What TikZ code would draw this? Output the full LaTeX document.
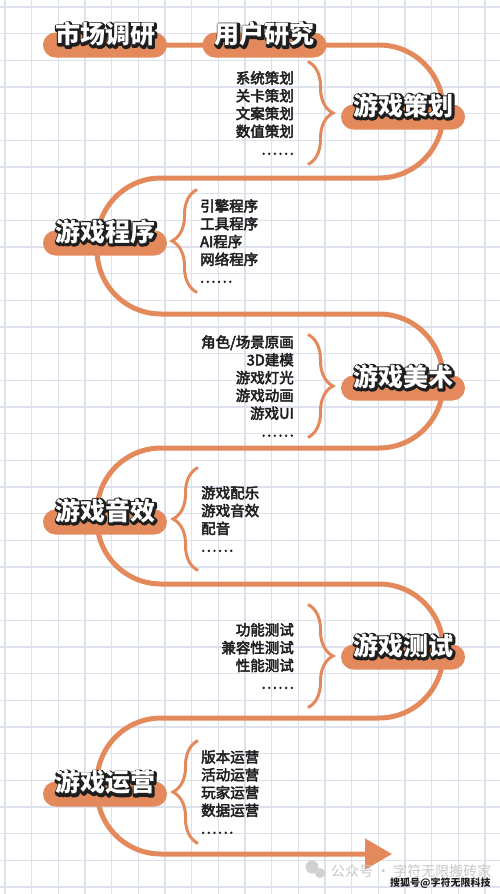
\documentclass[tikz,border=0pt]{standalone}
\usepackage{fontspec}
\setmainfont{Noto Sans CJK SC}
\newfontfamily\listfont{Noto Sans CJK SC}
\usepackage{tikz}
\usetikzlibrary{arrows.meta,positioning,calc,decorations.pathreplacing}
\definecolor{flowOrange}{HTML}{E3895C}
\definecolor{gridBlue}{HTML}{DCE1EB}
\definecolor{inkDark}{HTML}{1E1E1E}
\pgfdeclarelayer{gridlayer}
\pgfdeclarelayer{flowlayer}
\pgfsetlayers{gridlayer,flowlayer,main}
% stroked glyphs (fill + stroke), width in bp
\newcommand{\strk}[2]{\special{pdf:literal direct 2 Tr 1 J 1 j #1 w}#2\special{pdf:literal direct 0 Tr}}
\newcommand{\semibold}{\special{pdf:literal direct 2 Tr 1 j 0.45 w}}
\newcommand{\pilltxt}[1]{%
  \rlap{\hspace*{1pt}\raisebox{-1.1pt}{\color{inkDark}\strk{4.2}{#1}}}%
  {\color{white}#1}}
\newcommand{\dotrow}{.\kern1.6pt.\kern1.6pt.\kern1.6pt.\kern1.6pt.\kern1.6pt.}
\tikzset{
  Pill/.style={fill=flowOrange, rounded corners=12.5pt, minimum width=124pt,
               minimum height=25pt, inner sep=0pt},
  Ptxt/.style={font=\fontsize{25}{25}\selectfont\bfseries, inner sep=0pt},
  Llist/.style={font=\listfont\fontsize{14.5}{17.8}\selectfont\semibold, text=inkDark,
                inner sep=0pt, align=left, anchor=west},
  Rlist/.style={font=\listfont\fontsize{14.5}{17.8}\selectfont\semibold, text=inkDark,
                inner sep=0pt, align=right, anchor=east},
  Brc/.style={draw=flowOrange, line width=3pt, decorate,
              decoration={brace, amplitude=25pt}},
  Flow/.style={draw=flowOrange, line width=5pt, rounded corners=64pt},
  GridLn/.style={draw=gridBlue, line width=1.3pt}
}
\begin{document}
\begin{tikzpicture}[x=1pt, y=-1pt]
  \useasboundingbox (0,0) rectangle (500,894);
  \begin{pgfonlayer}{gridlayer}
    \fill[white] (0,0) rectangle (500,894);
    \foreach \gx in {0,...,18}
      \draw[GridLn] (5+26.667*\gx,0) -- (5+26.667*\gx,894);
    \foreach \gy in {0,...,33}
      \draw[GridLn] (0,7+26.667*\gy) -- (500,7+26.667*\gy);
  \end{pgfonlayer}

  % stages
  \node[Pill] (shichang) at (105,45) {};
  \node[Pill] (yonghu) at (264.5,45) {};
  \node[Pill] (cehua) at (403,117) {};
  \node[Pill] (chengxu) at (105,243) {};
  \node[Pill] (meishu) at (403,388) {};
  \node[Pill] (yinxiao) at (105,522) {};
  \node[Pill] (ceshi) at (403,657) {};
  \node[Pill] (yunying) at (105,794) {};

  \node[Ptxt] (shichang-t) at ([yshift=10.5pt]shichang.center) {\pilltxt{市场调研}};
  \node[Ptxt] (yonghu-t) at ([yshift=10.5pt]yonghu.center) {\pilltxt{用户研究}};
  \node[Ptxt] (cehua-t) at ([yshift=11pt]cehua.center) {\pilltxt{游戏策划}};
  \node[Ptxt] (chengxu-t) at ([yshift=11pt]chengxu.center) {\pilltxt{游戏程序}};
  \node[Ptxt] (meishu-t) at ([yshift=11pt]meishu.center) {\pilltxt{游戏美术}};
  \node[Ptxt] (yinxiao-t) at ([yshift=11pt]yinxiao.center) {\pilltxt{游戏音效}};
  \node[Ptxt] (ceshi-t) at ([yshift=11pt]ceshi.center) {\pilltxt{游戏测试}};
  \node[Ptxt] (yunying-t) at ([yshift=11pt]yunying.center) {\pilltxt{游戏运营}};

  % task lists
  \node[Rlist] (cehua-l) at (294,113) {系统策划\\关卡策划\\文案策划\\数值策划\\\dotrow};
  \node[Llist] (chengxu-l) at (200,241) {引擎程序\\工具程序\\AI程序\\网络程序\\\dotrow};
  \node[Rlist] (meishu-l) at (294,386) {角色/场景原画\\3D建模\\游戏灯光\\游戏动画\\游戏UI\\\dotrow};
  \node[Llist] (yinxiao-l) at (201,519) {游戏配乐\\游戏音效\\配音\\\dotrow};
  \node[Rlist] (ceshi-l) at (294,656) {功能测试\\兼容性测试\\性能测试\\\dotrow};
  \node[Llist] (yunying-l) at (201,792) {版本运营\\活动运营\\玩家运营\\数据运营\\\dotrow};

  \draw[Brc] ($(cehua-l.east)+(14,-51.5)$) -- ($(cehua-l.east)+(14,51.5)$);
  \draw[Brc] ($(chengxu-l.west)+(-3,51.5)$) -- ($(chengxu-l.west)+(-3,-51.5)$);
  \draw[Brc] ($(meishu-l.east)+(14,-51.5)$) -- ($(meishu-l.east)+(14,51.5)$);
  \draw[Brc] ($(yinxiao-l.west)+(-3,51.5)$) -- ($(yinxiao-l.west)+(-3,-51.5)$);
  \draw[Brc] ($(ceshi-l.east)+(14,-51.5)$) -- ($(ceshi-l.east)+(14,51.5)$);
  \draw[Brc] ($(yunying-l.west)+(-3,51.5)$) -- ($(yunying-l.west)+(-3,-51.5)$);

  % winding flow
  \begin{pgfonlayer}{flowlayer}
    \draw[Flow, -{Triangle[length=27pt,width=30pt]}]
      (shichang.center) -- (yonghu.center) -- (443,45) -- (443,178)
      -- (97,178) -- (97,314) -- (443,314) -- (443,448)
      -- (97,448) -- (97,584) -- (443,584) -- (443,718)
      -- (97,718) -- (97,854) -- (392,854);
  \end{pgfonlayer}

  % watermark
  \fill[black!18] (312,867) circle (6.5pt);
  \fill[black!18] (320,873) circle (5pt);
  \node[font=\fontsize{14}{14}\selectfont, text=black!22, anchor=west, inner sep=0pt]
    (wm-gzh) at (331,871) {公众号 · 字符无限搬砖家};
  \node[font=\fontsize{10}{10}\selectfont\bfseries, text=inkDark, anchor=west, inner sep=0pt]
    (wm-sohu) at (390,883) {搜狐号@字符无限科技};
\end{tikzpicture}
\end{document}
